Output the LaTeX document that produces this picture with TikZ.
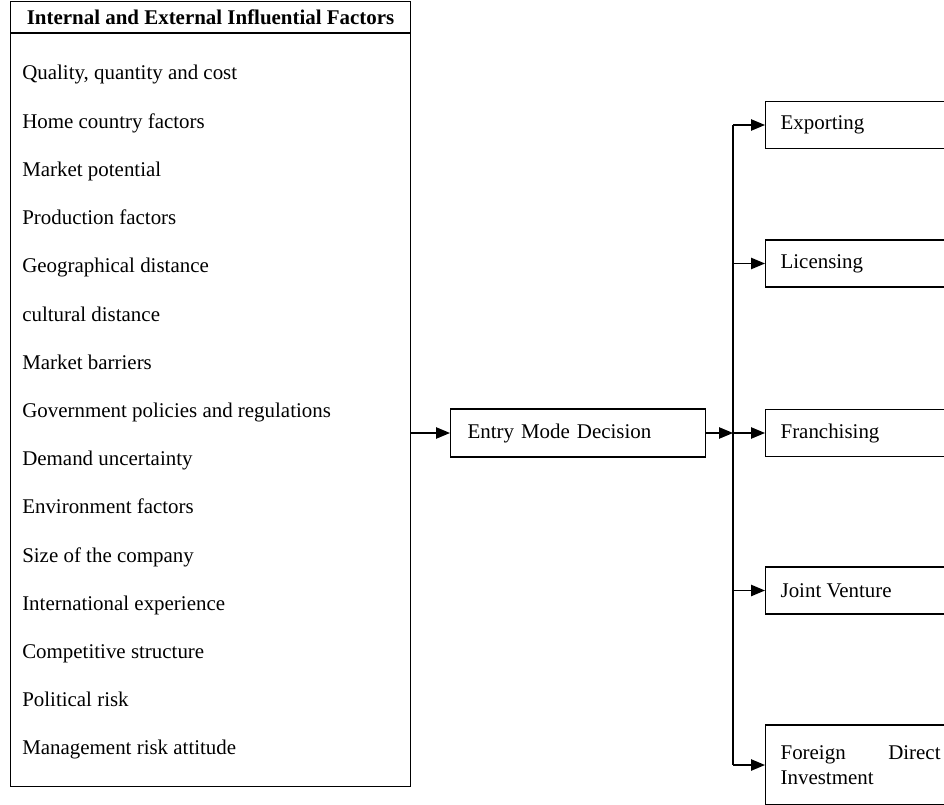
\documentclass[tikz,border=0pt]{standalone}
\usepackage{fontspec}
\setmainfont{Liberation Serif}
\usepackage{tikz}
\usetikzlibrary{arrows.meta}
\newcommand{\diagfont}{\fontsize{15.7}{19}\selectfont}

\begin{document}
\begin{tikzpicture}[x=0.75pt,y=-0.75pt,
  caja/.style={draw,line width=0.9pt,font=\diagfont},
  factor/.style={anchor=base west,inner sep=0pt,font=\diagfont},
  modo/.style={draw,line width=0.9pt,anchor=west,align=justify,text width=120pt,inner xsep=11.25pt,minimum height=35.25pt,font=\diagfont},
  arr/.style={-{Triangle[length=10.5pt,width=8.5pt]},line width=1.1pt}]
\useasboundingbox (0,0) rectangle (944,805);
\clip (0,0) rectangle (944,805);
\node[caja,anchor=north west,minimum width=300pt,minimum height=23.25pt,font=\diagfont\bfseries] (head) at (10,1) {Internal and External Influential Factors};
\node[caja,anchor=north west,minimum width=300pt,minimum height=564.75pt] (fac) at (head.south west) {};
\node[factor] (f1) at (22,80) {Quality, quantity and cost};
\node[factor] (f2) at (22,128.2) {Home country factors};
\node[factor] (f3) at (22,176.4) {Market potential};
\node[factor] (f4) at (22,224.6) {Production factors};
\node[factor] (f5) at (22,272.8) {Geographical distance};
\node[factor] (f6) at (22,321) {cultural distance};
\node[factor] (f7) at (22,369.2) {Market barriers};
\node[factor] (f8) at (22,417.4) {Government policies and regulations};
\node[factor] (f9) at (22,465.6) {Demand uncertainty};
\node[factor] (f10) at (22,513.8) {Environment factors};
\node[factor] (f11) at (22,562) {Size of the company};
\node[factor] (f12) at (22,610.2) {International experience};
\node[factor] (f13) at (22,658.4) {Competitive structure};
\node[factor] (f14) at (22,706.6) {Political risk};
\node[factor] (f15) at (22,754.8) {Management risk attitude};
\node[caja,anchor=west,align=left,text width=165.75pt,inner xsep=12.75pt,minimum height=36pt] (dec) at (450,433) {Entry Mode Decision};
\node[modo] (exp) at (765,125) {Exporting};
\node[modo] (lic) at (765,263.5) {Licensing};
\node[modo] (fra) at (765,433) {Franchising};
\node[modo] (jv) at (765,590.5) {Joint Venture};
\node[modo,minimum height=60pt] (fdi) at (765,765) {Foreign Direct \mbox{Investment}};
\coordinate (bus) at (733,433);
\draw[arr] (dec.west -| fac.east) -- (dec.west);
\draw[line width=1.1pt] (exp.west -| bus) -- (fdi.west -| bus);
\draw[arr] (dec.east) -- (bus);
\draw[arr] (bus) -- (fra.west);
\draw[arr] (exp.west -| bus) -- (exp.west);
\draw[arr] (lic.west -| bus) -- (lic.west);
\draw[arr] (jv.west -| bus) -- (jv.west);
\draw[arr] (fdi.west -| bus) -- (fdi.west);
\end{tikzpicture}
\end{document}
